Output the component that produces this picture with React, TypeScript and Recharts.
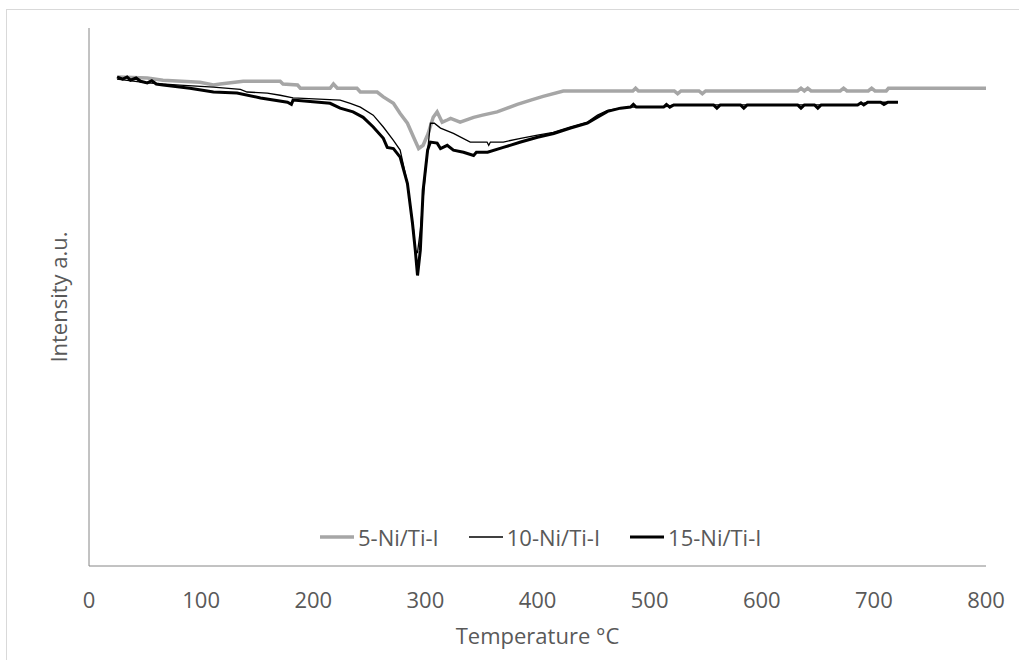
import React from "react";
import { Label, Legend, Line, LineChart, XAxis, YAxis } from "recharts";

const xTicks = [0, 100, 200, 300, 400, 500, 600, 700, 800];

const t5 = [26, 52, 66, 99, 111, 117, 137.5, 170.5, 173, 186, 188.5, 215, 218, 221.5, 239, 242, 257, 262.5, 271.5, 277.5, 284, 289.5, 294, 298, 302.5, 307, 310.5, 315, 319.5, 322.5, 331, 343, 351, 364, 373, 382, 394, 405, 423, 485, 487.5, 490, 522, 525, 528, 544, 547, 550, 632, 635, 638, 641, 644, 670, 673, 676, 695, 698, 701, 711, 713, 800];
const i5 = [90.9, 90.7, 90.3, 89.9, 89.4, 89.6, 90.1, 90.1, 89.6, 89.4, 88.8, 88.8, 89.6, 88.8, 88.8, 88.1, 88.1, 87.2, 86.0, 84.1, 82.3, 79.7, 77.6, 78.2, 80.4, 83.4, 84.4, 82.5, 82.9, 83.2, 82.5, 83.4, 83.8, 84.4, 85.1, 85.8, 86.6, 87.3, 88.3, 88.3, 88.8, 88.3, 88.3, 87.8, 88.3, 88.3, 87.8, 88.3, 88.3, 88.8, 88.3, 88.8, 88.3, 88.3, 88.8, 88.3, 88.3, 88.8, 88.3, 88.3, 88.8, 88.8];

const t10 = [25, 52, 81, 111, 135, 141, 159, 170.5, 182, 224, 233, 242, 253.5, 262.5, 271.5, 277.5, 284, 289.5, 291, 293, 295.5, 300, 304.5, 308, 313.5, 325, 340, 355, 356.5, 358, 369.5, 385, 400, 414, 429.5, 444.5, 453.5, 462.5, 474, 483, 512.5, 521.5, 632, 647, 685.5, 694.5, 721.5];
const i10 = [90.5, 89.8, 89.4, 89.0, 88.6, 88.1, 87.9, 87.5, 87.0, 86.6, 86.0, 85.3, 83.8, 81.6, 79.1, 77.3, 71.1, 62.4, 58.7, 58.3, 62.4, 73.0, 82.3, 82.3, 81.4, 80.4, 78.8, 78.8, 78.2, 78.8, 78.8, 79.5, 80.1, 80.6, 81.6, 82.5, 83.8, 84.7, 85.1, 85.3, 85.3, 85.7, 85.7, 85.7, 85.7, 86.2, 86.2];

const t15 = [25, 30, 34, 37, 42, 46, 52, 56, 60, 66, 90, 111, 132, 153, 177, 180.5, 182, 215, 224, 235.5, 244.5, 253.5, 262.5, 266, 271.5, 277.5, 284, 288.5, 291, 293, 295.5, 298, 302, 304.5, 310.5, 313.5, 319.5, 325, 334, 343, 345.5, 355.5, 369.5, 385, 400, 414.5, 429.5, 444.5, 453.5, 462.5, 474, 483, 485.5, 488, 512.5, 515, 518, 521.5, 557, 560, 563, 581, 584, 587, 632, 635, 638, 647, 650, 653, 685.5, 688.5, 691, 694.5, 706, 709, 712.5, 721.5];
const i15 = [90.9, 90.5, 90.9, 90.3, 90.7, 90.1, 89.8, 90.2, 89.6, 89.4, 88.8, 88.1, 87.9, 87.0, 86.2, 85.8, 86.6, 86.0, 85.1, 84.4, 83.4, 81.6, 79.5, 77.8, 77.6, 76.0, 71.1, 63.7, 58.7, 54.0, 58.7, 69.8, 77.3, 78.8, 78.6, 77.6, 78.2, 77.3, 76.9, 76.3, 76.9, 76.9, 77.8, 78.8, 79.7, 80.4, 81.4, 82.3, 83.4, 84.5, 85.1, 85.3, 85.8, 85.3, 85.3, 85.8, 85.3, 85.7, 85.7, 85.1, 85.7, 85.7, 85.1, 85.7, 85.7, 85.1, 85.7, 85.7, 85.1, 85.7, 85.7, 86.1, 85.7, 86.2, 86.2, 85.8, 86.2, 86.2];

const toRows = (ts: number[], vs: number[]) => ts.map((t, i) => ({ t, v: vs[i] }));

const series = [
  { name: "5-Ni/Ti-I", data: toRows(t5, i5), color: "#a6a6a6", width: 3.5 },
  { name: "10-Ni/Ti-I", data: toRows(t10, i10), color: "#000000", width: 1.3 },
  { name: "15-Ni/Ti-I", data: toRows(t15, i15), color: "#000000", width: 3 },
];

const FONT = "'Liberation Sans Narrow', 'Open Sans', sans-serif";
const TEXT = "#595959";

function LegendBox() {
  return (
    <div style={{ display: "flex", alignItems: "center", gap: 30, fontFamily: FONT, fontSize: 22, color: TEXT }}>
      {series.map((s) => (
        <div key={s.name} style={{ display: "flex", alignItems: "center" }}>
          <svg width={34} height={10} style={{ marginRight: 4 }}>
            <line x1={0} y1={5} x2={34} y2={5} stroke={s.color} strokeWidth={s.width} />
          </svg>
          <span>{s.name}</span>
        </div>
      ))}
    </div>
  );
}

export default function App() {
  return (
    <div style={{ position: "absolute", left: 0, top: 0, width: 1019, height: 660, background: "#fff" }}>
      <div style={{ position: "absolute", left: 6, top: 9, width: 1040, height: 680, border: "1px solid #d9d9d9" }} />
      <div style={{ position: "absolute", left: 0, top: 0 }}>
        <LineChart width={1019} height={660} margin={{ top: 28, right: 33, bottom: 14, left: 29 }}>
          <XAxis
            type="number"
            dataKey="t"
            domain={[0, 800]}
            ticks={xTicks}
            tickLine={false}
            tickMargin={20}
            height={80}
            axisLine={{ stroke: "#868686" }}
            tick={{ fill: TEXT, fontSize: 22, fontFamily: FONT }}
            allowDuplicatedCategory={false}
          >
            <Label value="Temperature °C" position="insideBottom" offset={2} fill={TEXT} fontSize={22} fontFamily={FONT} />
          </XAxis>
          <YAxis
            type="number"
            domain={[0, 100]}
            width={60}
            tick={false}
            tickLine={false}
            axisLine={{ stroke: "#868686" }}
          >
            <Label value="Intensity a.u." angle={-90} position="center" fill={TEXT} fontSize={22} fontFamily={FONT} />
          </YAxis>
          <Legend
            layout="vertical"
            verticalAlign="middle"
            align="center"
            content={() => <LegendBox />}
            wrapperStyle={{ top: 522, left: 320, width: "auto" }}
          />
          {series.map((s) => (
            <Line
              key={s.name}
              data={s.data}
              dataKey="v"
              name={s.name}
              type="linear"
              stroke={s.color}
              strokeWidth={s.width}
              dot={false}
              activeDot={false}
              isAnimationActive={false}
            />
          ))}
        </LineChart>
      </div>
    </div>
  );
}
